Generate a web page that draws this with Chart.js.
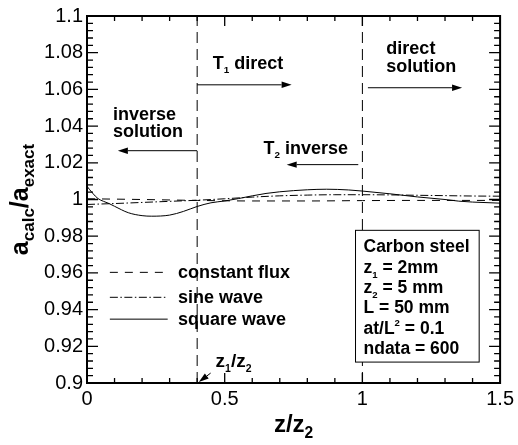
<!DOCTYPE html>
<html>
<head>
<meta charset="utf-8" />
<title>a_calc/a_exact vs z/z2</title>
<script src="https://cdn.jsdelivr.net/npm/chart.js@4.4.0/dist/chart.umd.min.js"></script>
<style>
  body { margin: 0; background: #fff; }
  #wrap { width: 518px; height: 445px; position: relative; }
</style>
</head>
<body>
<div id="wrap"><canvas id="chart"></canvas></div>
<script>
  // values
  const xFlux = [0, 0.2, 0.4, 0.6, 0.8, 1.0, 1.2, 1.5];
  const yFlux = [1.0004, 1.0, 0.9995, 0.9992, 0.9992, 0.9994, 0.9995, 0.9995];

  const xSine = [0, 0.1, 0.2, 0.3, 0.4, 0.5, 0.6, 0.7, 0.8, 0.9, 1.0, 1.1, 1.2, 1.3, 1.4, 1.5];
  const ySine = [0.9973, 0.9978, 0.9984, 0.999, 0.9996, 1.0004, 1.0013, 1.002, 1.0024, 1.0026, 1.0026, 1.0025, 1.0023, 1.0021, 1.0019, 1.0018];

  const xSquare = [0, 0.02, 0.04, 0.06, 0.08, 0.1, 0.15, 0.2, 0.235, 0.3, 0.35, 0.4, 0.45, 0.5, 0.55, 0.6, 0.65, 0.7, 0.8, 0.87, 0.95, 1.0, 1.1, 1.2, 1.3, 1.35, 1.4, 1.5];
  const ySquare = [1.0072, 1.0035, 1.0005, 0.999, 0.9978, 0.9963, 0.9928, 0.9912, 0.9909, 0.9915, 0.9935, 0.9962, 0.9982, 0.9992, 1.0005, 1.002, 1.0033, 1.0042, 1.0053, 1.0056, 1.0052, 1.0046, 1.0031, 1.0014, 1.0, 0.9991, 0.9986, 0.998];

  const seriesNames = ['constant flux', 'sine wave', 'square wave'];
  const dividers = [0.4, 1.0];   // z1/z2 and z2/z2
  const boxLines = ['Carbon steel', 'z_1 = 2mm', 'z_2 = 5 mm', 'L = 50 mm', 'at/L^2 = 0.1', 'ndata = 600'];

  const FONT = "'Liberation Sans', Arial, Helvetica, sans-serif";
  Chart.defaults.font.family = FONT;
  Chart.defaults.color = '#000';

  const toPts = (xs, ys) => xs.map((x, i) => ({ x, y: ys[i] }));

  const lineSets = [
    { label: seriesNames[0], data: toPts(xFlux, yFlux), borderDash: [8, 7] },
    { label: seriesNames[1], data: toPts(xSine, ySine), borderDash: [8, 2.5, 1.5, 2.5] },
    { label: seriesNames[2], data: toPts(xSquare, ySquare), borderDash: [] }
  ].map(d => Object.assign(d, {
    borderColor: '#000', borderWidth: 1, pointRadius: 0, fill: false,
    cubicInterpolationMode: 'monotone'
  }));

  const dividerSets = dividers.map(v => ({
    label: 'divider', data: [{ x: v, y: 0.9 }, { x: v, y: 1.1 }],
    borderColor: '#000', borderWidth: 1, borderDash: [11, 6], pointRadius: 0, fill: false
  }));

  // text with _x / _{xy} subscripts and ^x superscripts
  function parseRich(s) {
    const out = [];
    let buf = '', i = 0;
    while (i < s.length) {
      const c = s[i];
      if (c === '_' || c === '^') {
        if (buf) { out.push([buf, '']); buf = ''; }
        let t;
        if (s[i + 1] === '{') { const j = s.indexOf('}', i); t = s.slice(i + 2, j); i = j + 1; }
        else { t = s[i + 1]; i += 2; }
        out.push([t, c === '_' ? 'sub' : 'sup']);
      } else { buf += c; i++; }
    }
    if (buf) out.push([buf, '']);
    return out;
  }

  function drawRich(ctx, text, x, y, size, align, subRatio) {
    const parts = parseRich(text);
    const sr = subRatio || 0.6;
    const fontOf = m => 'bold ' + (m ? size * sr : size) + 'px ' + FONT;
    let w = 0;
    parts.forEach(p => { ctx.font = fontOf(p[1]); w += ctx.measureText(p[0]).width; });
    let cx = align === 'center' ? x - w / 2 : x;
    ctx.textAlign = 'left';
    ctx.textBaseline = 'alphabetic';
    parts.forEach(([t, m]) => {
      ctx.font = fontOf(m);
      const dy = m === 'sub' ? size * 0.25 : m === 'sup' ? -size * 0.45 : 0;
      ctx.fillText(t, cx, y + dy);
      cx += ctx.measureText(t).width;
    });
  }

  function drawArrow(ctx, x0, y0, x1, y1) {
    const a = Math.atan2(y1 - y0, x1 - x0), L = 10, H = 3.2;
    ctx.beginPath();
    ctx.moveTo(x0, y0);
    ctx.lineTo(x1 - L * Math.cos(a), y1 - L * Math.sin(a));
    ctx.stroke();
    ctx.beginPath();
    ctx.moveTo(x1, y1);
    ctx.lineTo(x1 - L * Math.cos(a) + H * Math.sin(a), y1 - L * Math.sin(a) - H * Math.cos(a));
    ctx.lineTo(x1 - L * Math.cos(a) - H * Math.sin(a), y1 - L * Math.sin(a) + H * Math.cos(a));
    ctx.closePath();
    ctx.fill();
  }

  // labels placed in data coordinates (left x, vertical centre y)
  const notes = [
    { t: 'T_1 direct', x: 0.457, y: 1.0745, s: 18 },
    { t: 'direct', x: 1.087, y: 1.0826, s: 18 },
    { t: 'solution', x: 1.087, y: 1.0728, s: 18 },
    { t: 'inverse', x: 0.094, y: 1.0467, s: 18 },
    { t: 'solution', x: 0.094, y: 1.0375, s: 18 },
    { t: 'T_2 inverse', x: 0.641, y: 1.0283, s: 18 },
    { t: 'z_1/z_2', x: 0.467, y: 0.9118, s: 19 }
  ];
  const arrows = [
    [0.4, 1.0625, 0.743, 1.0625],
    [1.02, 1.0609, 1.362, 1.0609],
    [0.4, 1.0266, 0.112, 1.0266],
    [0.985, 1.019, 0.725, 1.019],
    [0.449, 0.9054, 0.406, 0.9005]
  ];
  const legendRows = [0.9603, 0.9467, 0.9348];

  const decor = {
    id: 'decor',
    afterDraw(chart) {
      const ctx = chart.ctx, a = chart.chartArea;
      const xs = chart.scales.x, ys = chart.scales.y;
      const px = v => xs.getPixelForValue(v), py = v => ys.getPixelForValue(v);
      ctx.save();
      ctx.fillStyle = '#000';
      ctx.strokeStyle = '#000';

      // inward ticks on all four sides
      ctx.lineWidth = 1.3;
      ctx.beginPath();
      for (let i = 0; i <= 15; i++) {
        const v = i / 10, X = px(v), len = i % 5 === 0 ? 10 : 5;
        ctx.moveTo(X, a.bottom); ctx.lineTo(X, a.bottom - len);
        ctx.moveTo(X, a.top); ctx.lineTo(X, a.top + len);
      }
      for (let i = 0; i <= 50; i++) {
        const v = 0.9 + i * 0.004, Y = py(v), len = i % 5 === 0 ? 11 : 6;
        ctx.moveTo(a.left, Y); ctx.lineTo(a.left + len, Y);
        ctx.moveTo(a.right, Y); ctx.lineTo(a.right - len, Y);
      }
      ctx.stroke();

      // frame
      ctx.lineWidth = 2;
      ctx.strokeRect(a.left, a.top, a.right - a.left, a.bottom - a.top);

      // annotations
      ctx.lineWidth = 1;
      notes.forEach(n => drawRich(ctx, n.t, px(n.x), py(n.y) + 6, n.s, 'left', 0.55));
      arrows.forEach(r => drawArrow(ctx, px(r[0]), py(r[1]), px(r[2]), py(r[3])));

      // legend
      chart.data.datasets.slice(0, 3).forEach((d, i) => {
        const Y = py(legendRows[i]);
        ctx.setLineDash(d.borderDash);
        ctx.beginPath();
        ctx.moveTo(px(0.083), Y); ctx.lineTo(px(0.293), Y);
        ctx.stroke();
        ctx.setLineDash([]);
        drawRich(ctx, d.label, px(0.33), Y + 6, 18, 'left');
      });

      // material box
      ctx.fillStyle = '#fff';
      ctx.fillRect(px(0.975), py(0.9832), px(1.424) - px(0.975), py(0.9114) - py(0.9832));
      ctx.lineWidth = 1;
      ctx.strokeRect(px(0.975), py(0.9832), px(1.424) - px(0.975), py(0.9114) - py(0.9832));
      ctx.fillStyle = '#000';
      const boxY = [0.9745, 0.9630, 0.9522, 0.9413, 0.9299, 0.9190];
      boxLines.forEach((t, i) => drawRich(ctx, t, px(1.004), py(boxY[i]) + 6, 17.5, 'left', 0.55));

      // axis titles
      drawRich(ctx, 'z/z_2', (a.left + a.right) / 2, 432, 24, 'center', 0.65);
      ctx.translate(28, (a.top + a.bottom) / 2);
      ctx.rotate(-Math.PI / 2);
      drawRich(ctx, 'a_{calc}/a_{exact}', 0, 0, 25, 'center', 0.68);
      ctx.restore();
    }
  };

  const fmt = v => String(parseFloat(Number(v).toFixed(3)));

  new Chart(document.getElementById('chart'), {
    type: 'line',
    data: { datasets: lineSets.concat(dividerSets) },
    options: {
      responsive: true,
      maintainAspectRatio: false,
      animation: false,
      layout: { padding: { left: 0, right: 17, top: 15, bottom: 0 } },
      plugins: { legend: { display: false }, tooltip: { enabled: false } },
      scales: {
        x: {
          type: 'linear', min: 0, max: 1.5,
          grid: { display: false, drawTicks: false },
          border: { display: false },
          ticks: { stepSize: 0.5, autoSkip: false, padding: 4, maxRotation: 0, font: { size: 20 }, callback: fmt },
          afterFit(s) { s.height = 62; }
        },
        y: {
          type: 'linear', min: 0.9, max: 1.1,
          grid: { display: false, drawTicks: false },
          border: { display: false },
          ticks: { stepSize: 0.02, autoSkip: false, padding: 4, font: { size: 20 }, callback: fmt },
          afterFit(s) { s.width = 87; }
        }
      }
    },
    plugins: [decor]
  });
</script>
</body>
</html>
